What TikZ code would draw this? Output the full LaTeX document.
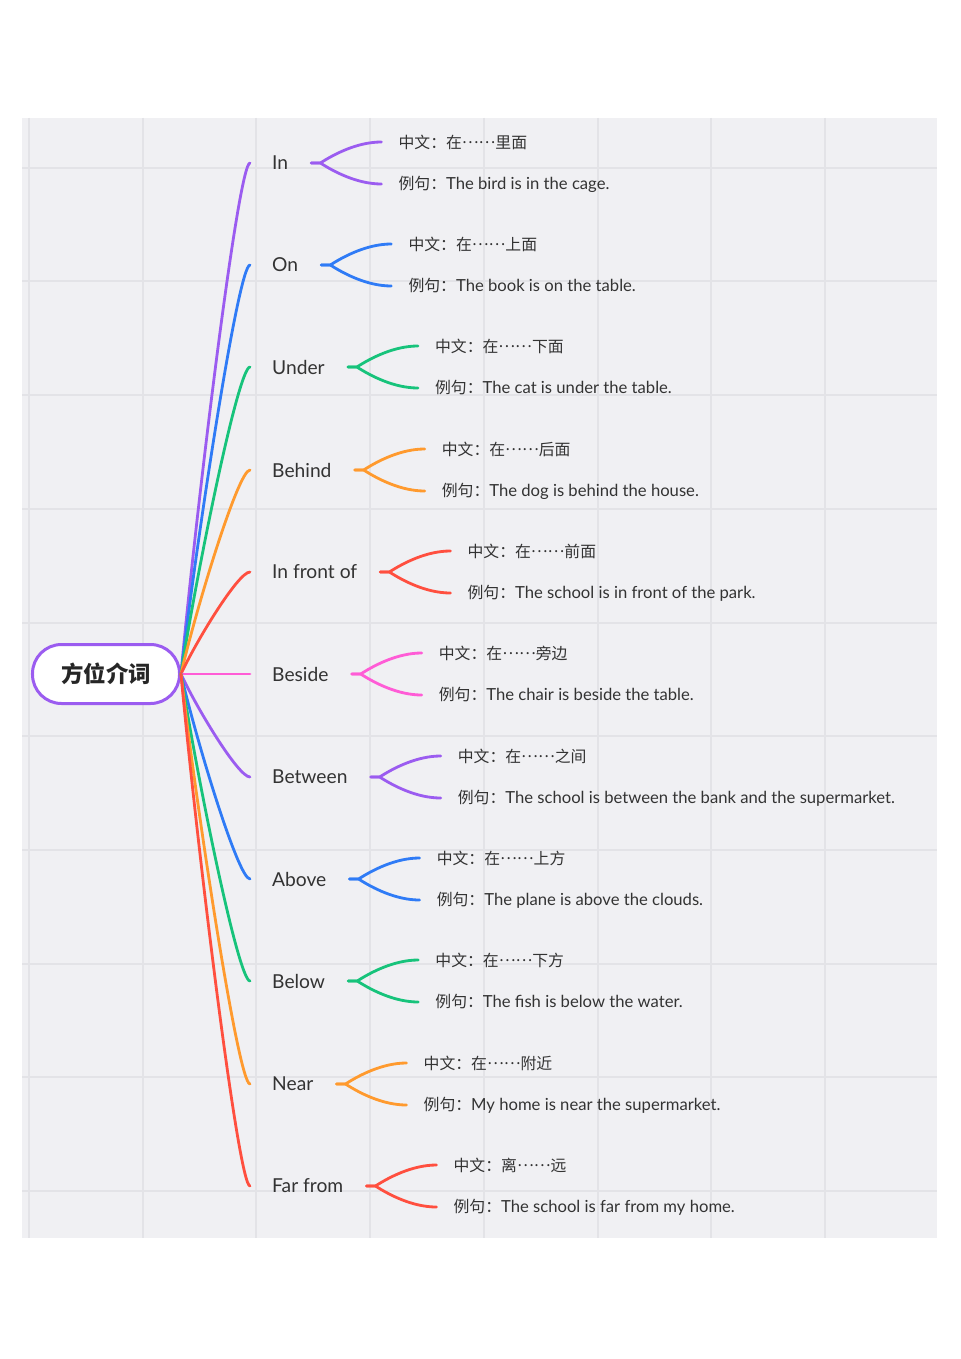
\documentclass[tikz,border=0pt]{standalone}
\usepackage{fontspec}
\setmainfont{Lato}
\newfontfamily\cjk{Noto Sans CJK SC}
\usetikzlibrary{calc}
\definecolor{cpurple}{HTML}{9B5CF0}
\definecolor{cblue}{HTML}{2F7BF6}
\definecolor{cgreen}{HTML}{17C37B}
\definecolor{corange}{HTML}{FF9A2E}
\definecolor{cred}{HTML}{FF4F3F}
\definecolor{cpink}{HTML}{FF5CD6}
\definecolor{panel}{HTML}{F0F0F3}
\definecolor{gridc}{HTML}{E3E3E7}
\definecolor{txt}{HTML}{333333}
\newcommand\cjkt{\cjk\fontsize{15.9}{18}\selectfont}
\newcommand\mmell{\raisebox{0.3em}{……}}
\tikzset{
  gridline/.style={draw=gridc, line width=1.2bp},
  conn/.style={line width=2.8bp, line cap=round},
  rootbox/.style={draw=cpurple, line width=3bp, fill=white, rounded corners=29bp,
    minimum width=147bp, minimum height=59bp, inner sep=0pt, text=black!85,
    font={\cjk\bfseries\fontsize{22.5}{26}\selectfont}},
  lvlone/.style={inner sep=0pt, text=txt, font={\fontsize{19.3}{22}\selectfont}},
  lvltwo/.style={inner sep=0pt, text=txt, font={\fontsize{16.7}{19}\selectfont}}
}
\newcommand\mmbranch[6]{%
  \node[lvlone,anchor=west] (l#1) at (272,#2) {#4};
  \draw[conn,#3] (root.east) .. controls (195,{674+0.3*(#2-674)}) and (238,#2) .. ([xshift=-22bp]l#1.west);
  \coordinate (f#1) at ([xshift=23bp]l#1.east);
  \node[lvltwo,anchor=west] (c#1) at ([shift={(87,-21)}]f#1) {\cjkt 中文：#5};
  \node[lvltwo,anchor=west] (e#1) at ([shift={(87,21)}]f#1) {{\cjkt 例句：}#6};
  \draw[conn,#3] (f#1) -- ++(9,0) .. controls +(14,-9) and +(-24,0) .. ([xshift=-17bp]c#1.west);
  \draw[conn,#3] (f#1) -- ++(9,0) .. controls +(14,9) and +(-24,0) .. ([xshift=-17bp]e#1.west);
}
\begin{document}
\begin{tikzpicture}[x=1bp,y=-1bp]
\useasboundingbox (0,0) rectangle (960,1359);
\fill[white] (0,0) rectangle (960,1359);
\fill[panel] (22,118) rectangle (937,1238);
\foreach \x in {29,143,256,370,484,598,711,825} \draw[gridline] (\x,118) -- (\x,1238);
\foreach \y in {168,281,395,509,623,736,850,964,1077,1191} \draw[gridline] (22,\y) -- (937,\y);
\node[rootbox] (root) at (106,674) {方位介词};
\mmbranch{1}{163}{cpurple}{In}{在\mmell 里面}{The bird is in the cage.}
\mmbranch{2}{265}{cblue}{On}{在\mmell 上面}{The book is on the table.}
\mmbranch{3}{367}{cgreen}{Under}{在\mmell 下面}{The cat is under the table.}
\mmbranch{4}{470}{corange}{Behind}{在\mmell 后面}{The dog is behind the house.}
\mmbranch{5}{572}{cred}{In front of}{在\mmell 前面}{The school is in front of the park.}
\mmbranch{6}{674}{cpink}{Beside}{在\mmell 旁边}{The chair is beside the table.}
\mmbranch{7}{777}{cpurple}{Between}{在\mmell 之间}{The school is between the bank and the supermarket.}
\mmbranch{8}{879}{cblue}{Above}{在\mmell 上方}{The plane is above the clouds.}
\mmbranch{9}{981}{cgreen}{Below}{在\mmell 下方}{The fish is below the water.}
\mmbranch{10}{1084}{corange}{Near}{在\mmell 附近}{My home is near the supermarket.}
\mmbranch{11}{1186}{cred}{Far from}{离\mmell 远}{The school is far from my home.}
\end{tikzpicture}
\end{document}
